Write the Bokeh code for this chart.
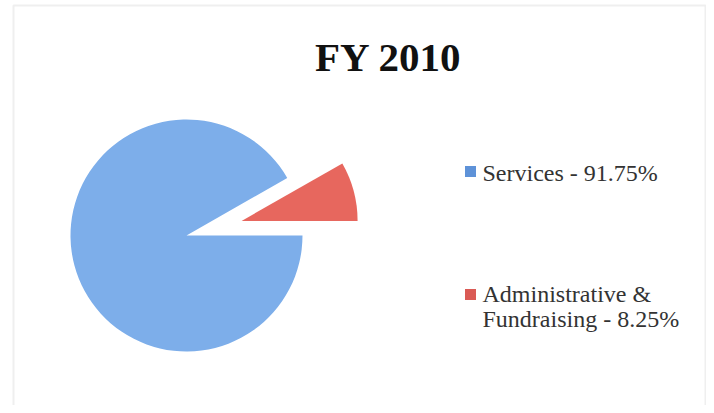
from math import pi, cos, sin
from bokeh.plotting import figure
from bokeh.models import Range1d, BoxAnnotation
from bokeh.core.properties import value
from bokeh.embed import file_html
from bokeh.resources import INLINE

# ---- data ----
title = "FY 2010"
categories = ["Services", "Administrative & Fundraising"]
shares = [91.75, 8.25]
legend_lines = [["Services - 91.75%"], ["Administrative &", "Fundraising - 8.25%"]]
colors = ["#7DAEEA", "#E7675E"]
marker_colors = ["#5E92D8", "#DA5A55"]

W, H = 706, 405
p = figure(width=W, height=H, output_backend="svg", toolbar_location=None,
           x_range=Range1d(0, W), y_range=Range1d(0, H), min_border=0,
           tools="")
p.axis.visible = False
p.grid.visible = False
p.outline_line_color = None
p.background_fill_color = "white"
p.border_fill_color = "white"

# chart border
p.add_layout(BoxAnnotation(left=13, right=705, top=400, bottom=-50,
                           fill_alpha=0, line_color="#C9C9C9", line_width=2))

# ---- pie ----
cx, cy, r = 186, 170, 116
explode = [0, 57]
total = sum(shares)
# admin slice starts at 3 o'clock going counter-clockwise, services fills the rest
order = [1, 0]
start = 0.0
for i in order:
    frac = shares[i] / total
    a0, a1 = start, start + 2 * pi * frac
    mid = (a0 + a1) / 2
    ox = cx + explode[i] * cos(mid)
    oy = cy + explode[i] * sin(mid)
    p.wedge(x=[ox], y=[oy], radius=r, start_angle=a0, end_angle=a1,
            fill_color=colors[i], line_color=None)
    start = a1

# ---- title ----
p.text(x=[388], y=[349], text=[title], text_font=value("Liberation Serif"),
       text_font_style="bold", text_font_size="41px", text_color="#111111",
       text_align="center", text_baseline="alphabetic")

# ---- legend ----
mx = 470
tx = 482
marker_y = [234, 111]
text_y = [[233], [112, 87]]
for i in range(len(categories)):
    p.scatter(x=[mx], y=[marker_y[i]], marker="square", size=11,
              fill_color=marker_colors[i], line_color=None)
    for line, ty in zip(legend_lines[i], text_y[i]):
        p.text(x=[tx], y=[ty], text=[line], text_font=value("Liberation Serif"),
               text_font_size="24px", text_color="#333333",
               text_align="left", text_baseline="alphabetic")

open("out.html", "w").write(file_html(p, INLINE))
